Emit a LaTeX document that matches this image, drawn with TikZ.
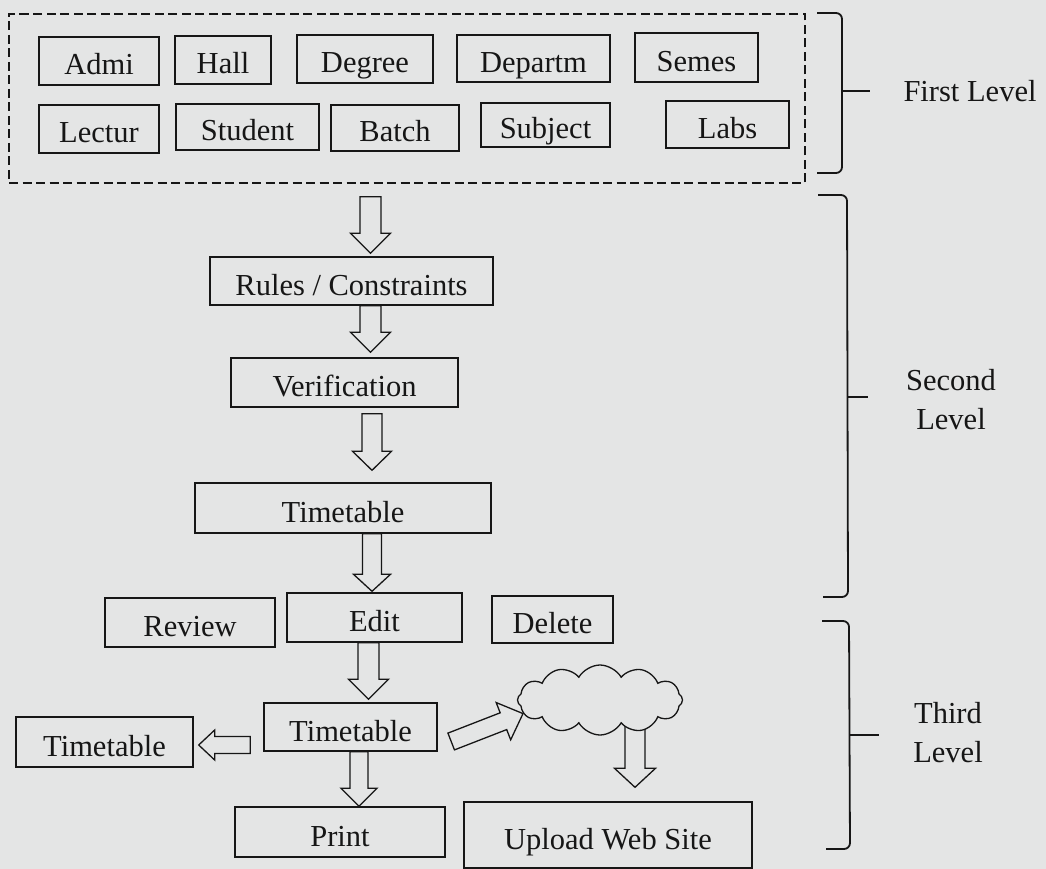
\documentclass[tikz,border=0pt]{standalone}
\usepackage{fontspec}
\setmainfont{Liberation Serif}
\usetikzlibrary{calc,shapes.symbols}
\pgfdeclarelayer{paperlayer}
\pgfdeclarelayer{arrowlayer}
\pgfsetlayers{paperlayer,arrowlayer,main}
\definecolor{paper}{RGB}{228,229,229}
\definecolor{ink}{RGB}{22,22,22}
\newcommand\lblfont{\fontsize{30.5}{39}\selectfont}
\tikzset{
  box/.style={draw=ink, line width=1.4pt, inner sep=0pt, text=ink, font=\lblfont,
    text height=28pt, text depth=0pt},
  dashbox/.style={draw=ink, line width=1.6pt, dash pattern=on 9pt off 4.5pt, inner sep=0pt},
  blkarrow/.style={draw=ink, line width=1.3pt, line join=miter},
  brk/.style={draw=ink, line width=1.8pt, rounded corners=6pt},
  lvl/.style={text=ink, font=\lblfont, align=center, inner sep=0pt},
  cloudnode/.style={cloud, draw=ink, fill=paper, line width=1.3pt, cloud puffs=12, cloud puff arc=120,
    aspect=2.3, minimum width=165pt, minimum height=70pt, inner sep=0pt}
}
% #1 tail, #2 tip, #3 shaft half width, #4 head half width, #5 head length
\newcommand\blk[5]{%
  \coordinate (blkH) at ($(#2)!#5!(#1)$);
  \draw[blkarrow] ($(#1)!#3!90:(#2)$) -- ($(blkH)!#3!-90:(#1)$) -- ($(blkH)!#4!-90:(#1)$)
    -- (#2) -- ($(blkH)!#4!90:(#1)$) -- ($(blkH)!#3!90:(#1)$) -- ($(#1)!#3!-90:(#2)$) -- cycle;}
\begin{document}
\begin{tikzpicture}[x=1pt,y=-1pt]
\begin{pgfonlayer}{paperlayer}
\fill[paper] (0,0) rectangle (1046,869);
\end{pgfonlayer}
\useasboundingbox (0,0) rectangle (1046,869);

% first level
\node[dashbox, minimum width=796pt, minimum height=169pt] (dash) at (407,98.5) {};
\node[box, minimum width=120pt, minimum height=48pt] (admi) at (99,61) {Admi};
\node[box, minimum width=96pt, minimum height=48pt] (hall) at (223,60) {Hall};
\node[box, minimum width=136pt, minimum height=48pt] (degree) at (365,59) {Degree};
\node[box, minimum width=153pt, minimum height=47pt] (departm) at (533.5,58.5) {Departm};
\node[box, minimum width=123pt, minimum height=49pt] (semes) at (696.5,57.5) {Semes};
\node[box, minimum width=120pt, minimum height=48pt] (lectur) at (99,129) {Lectur};
\node[box, minimum width=143pt, minimum height=46pt] (student) at (247.5,127) {Student};
\node[box, minimum width=128pt, minimum height=46pt] (batch) at (395,128) {Batch};
\node[box, minimum width=129pt, minimum height=44pt] (subject) at (545.5,125) {Subject};
\node[box, minimum width=123pt, minimum height=47pt] (labs) at (727.5,124.5) {Labs};

% second level
\node[box, minimum width=283pt, minimum height=48pt] (rules) at (351.5,281) {Rules / Constraints};
\node[box, minimum width=227pt, minimum height=49pt] (verif) at (344.5,382.5) {Verification};
\node[box, minimum width=296pt, minimum height=50pt] (tt1) at (343,508) {Timetable};

% third level
\node[box, minimum width=170pt, minimum height=49pt] (review) at (190,622.5) {Review};
\node[box, minimum width=175pt, minimum height=49pt] (edit) at (374.5,617.5) {Edit};
\node[box, minimum width=121pt, minimum height=47pt] (delete) at (552.5,619.5) {Delete};
\node[box, minimum width=173pt, minimum height=48pt] (tt2) at (350.5,727) {Timetable};
\node[box, minimum width=177pt, minimum height=50pt] (tt3) at (104.5,742) {Timetable};
\node[box, minimum width=210pt, minimum height=50pt] (print) at (340,832) {Print};
\node[box, minimum width=288pt, minimum height=66pt] (upload) at (608,835) {Upload Web Site};
\node[cloudnode] (cloud) at (600,700) {};

% arrow end points
\coordinate (a1s) at ($(dash.south -| 370.5,0)+(0,13)$);
\coordinate (a1t) at ($(rules.north -| 370.5,0)+(0,-3)$);
\coordinate (a2s) at (rules.south -| 370.5,0);
\coordinate (a2t) at ($(verif.north -| 370.5,0)+(0,-5)$);
\coordinate (a3s) at ($(verif.south -| 372,0)+(0,6)$);
\coordinate (a3t) at ($(tt1.north -| 372,0)+(0,-12)$);
\coordinate (a4s) at (tt1.south -| 372,0);
\coordinate (a4t) at ($(edit.north -| 372,0)+(0,-1)$);
\coordinate (a5s) at (edit.south -| 368.5,0);
\coordinate (a5t) at ($(tt2.north -| 368.5,0)+(0,-3)$);
\coordinate (a6s) at (tt2.south -| 359,0);
\coordinate (a6t) at (print.north -| 359,0);
\coordinate (a7s) at ($(tt2.west)+(-13,18)$);
\coordinate (a7t) at ($(tt3.east)+(5,3)$);
\coordinate (a8s) at ($(tt2.east)+(13.5,14.5)$);
\coordinate (a8t) at (cloud.190);
\coordinate (a9s) at ($(cloud.south)+(35,-15)$);
\coordinate (a9t) at ($(upload.north)+(27,-14)$);

\begin{pgfonlayer}{arrowlayer}
\blk{a1s}{a1t}{10.5pt}{20pt}{20pt}
\blk{a2s}{a2t}{10.5pt}{20pt}{20pt}
\blk{a3s}{a3t}{10pt}{19.5pt}{19pt}
\blk{a4s}{a4t}{9.5pt}{18.5pt}{17pt}
\blk{a5s}{a5t}{10.5pt}{20pt}{20pt}
\blk{a6s}{a6t}{9pt}{18pt}{18pt}
\blk{a7s}{a7t}{8.5pt}{15pt}{16pt}
\blk{a8s}{a8t}{9pt}{20pt}{21pt}
\blk{a9s}{a9t}{10pt}{20.5pt}{19pt}
\end{pgfonlayer}

% braces
\draw[brk] (817,13) -- (842,13) -- (842,173) -- (817,173);
\draw[brk] (842,91) -- (870,91);
\draw[brk] (818,195) -- (847,195) -- (848,597) -- (823,597);
\draw[brk] (848,397) -- (868,397);
\draw[brk] (822,621) -- (849,621) -- (850,849) -- (826,849);
\draw[brk] (850,735) -- (879,735);

\node[lvl] (l1) at (970,91) {First Level};
\node[lvl] (l2) at (951,400) {Second\\Level};
\node[lvl] (l3) at (948,733) {Third\\Level};
\end{tikzpicture}
\end{document}
